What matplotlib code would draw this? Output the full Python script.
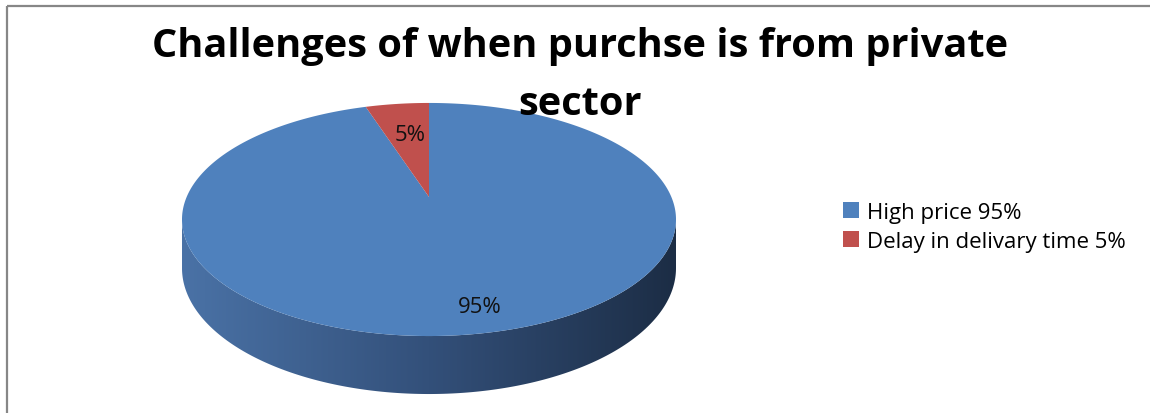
import numpy as np
import matplotlib.pyplot as plt
from matplotlib.patches import Polygon, Rectangle
from matplotlib.colors import LinearSegmentedColormap

plt.rcParams['font.family'] = ['Open Sans', 'DejaVu Sans']

# Chart data
title_line1 = 'Challenges of when purchse is from private'
title_line2 = 'sector'
categories = ['High price 95%', 'Delay in delivary time 5%']
values = [95, 5]
labels = ['95%', '5%']
colors = ['#4F81BD', '#C0504D']

# Pie geometry (pixels), Excel-like 3D pie with a bit of perspective
cx, cy = 429, 198       # projected centre of the disc
k = 0.193               # perspective strength
rx_max = 247            # half width of the top ellipse
B = 112.2
A = rx_max * np.sqrt(1 - k ** 2)
D = 46.8                # thickness


def project(theta, drop=0.0):
    # theta in degrees, clockwise from 12 o'clock
    t = np.radians(theta)
    u, v = np.sin(t), -np.cos(t)
    w = 1 - k * v
    return cx + A * u / w, cy + (B * v + drop) / w


fig = plt.figure(figsize=(11.5, 4.14), dpi=100)
ax = fig.add_axes([0, 0, 1, 1])
ax.set_xlim(0, 1150)
ax.set_ylim(414, 0)
ax.axis('off')

# outer chart frame
ax.add_patch(Rectangle((7, 7), 1200, 500, fill=False, edgecolor='#878787', lw=1.6))

# side wall (front half), filled with a dark blue gradient
tR = np.degrees(np.arccos(-k))
tL = 360 - tR
th = np.linspace(tR, tL, 200)
xt, yt = project(th)
xb, yb = project(th[::-1], D)
wall = Polygon(np.column_stack([np.r_[xt, xb], np.r_[yt, yb]]), closed=True,
               facecolor='none', edgecolor='none')
ax.add_patch(wall)
grad = np.linspace(0, 1, 256).reshape(1, -1)
cmap = LinearSegmentedColormap.from_list('wall', ['#4A72A6', '#33507A', '#1C2D45'])
img = ax.imshow(grad, cmap=cmap, aspect='auto',
                extent=(xt.min(), xt.max(), yb.max() + 2, yt.min()), zorder=1)
img.set_clip_path(wall)

# top slices
start = 0.0
handles = []
total = sum(values)
for val, col in zip(values, colors):
    span = 360 * val / total
    ang = np.linspace(start, start + span, max(int(span * 2), 4))
    px, py = project(ang)
    poly = Polygon(np.column_stack([np.r_[cx, px], np.r_[cy, py]]), closed=True,
                   facecolor=col, edgecolor='none', zorder=2)
    ax.add_patch(poly)
    handles.append(poly)
    start += span

# data labels
ax.text(480, 308, labels[0], ha='center', va='center', fontsize=16, color='#111111', zorder=3)
ax.text(410, 136, labels[1], ha='center', va='center', fontsize=16, color='#111111', zorder=3)

# title
ax.text(580, 57, title_line1, ha='center', va='baseline', fontsize=28.6,
        fontweight='bold', color='black', zorder=4)
ax.text(580, 115, title_line2, ha='center', va='baseline', fontsize=28.6,
        fontweight='bold', color='black', zorder=4)

# legend
ax.legend(handles, categories, loc='upper left', bbox_to_anchor=(843, 203),
          bbox_transform=ax.transData, frameon=False, fontsize=16,
          handlelength=0.7, handleheight=0.7, handletextpad=0.4,
          labelspacing=0.36, borderpad=0, borderaxespad=0)

fig.savefig('out.png', dpi=100)
